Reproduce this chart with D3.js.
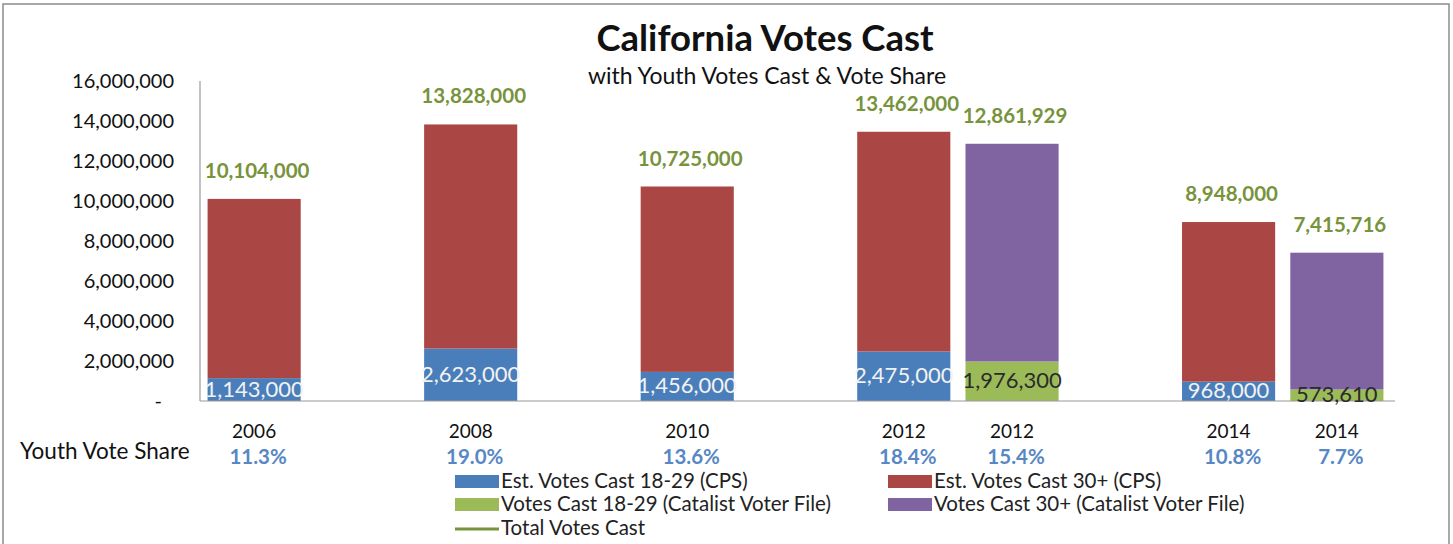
<!DOCTYPE html>
<html>
<head>
<meta charset="utf-8">
<script src="https://cdn.jsdelivr.net/npm/d3@7"></script>
<style>
  body { margin: 0; background: #fff; }
  svg { display: block; font-family: Lato, "Open Sans", sans-serif; }
</style>
</head>
<body>
<div id="chart"></div>
<script>
// Slots along the x axis (blank slots are the gaps between election years)
var slotLabels = ['2006', '', '2008', '', '2010', '', '2012', '2012', '', '2014', '2014'];

// Est. votes cast by age, CPS
var youthCPS = [1143000, null, 2623000, null, 1456000, null, 2475000, null, null, 968000, null];
var adultCPS = [8961000, null, 11205000, null, 9269000, null, 10987000, null, null, 7980000, null];

// Votes cast by age, Catalist voter file
var youthCatalist = [null, null, null, null, null, null, null, 1976300, null, null, 573610];
var adultCatalist = [null, null, null, null, null, null, null, 10885629, null, null, 6842106];

// Total votes cast (label series)
var totalVotes = [10104000, null, 13828000, null, 10725000, null, 13462000, 12861929, null, 8948000, 7415716];

// Youth vote share
var youthShare = ['11.3%', '', '19.0%', '', '13.6%', '', '18.4%', '15.4%', '', '10.8%', '7.7%'];

var yTicks = [0, 2000000, 4000000, 6000000, 8000000, 10000000, 12000000, 14000000, 16000000];

var legendItems = [
  { label: 'Est. Votes Cast 18-29 (CPS)', color: '#4a7ebb', type: 'rect', col: 0, row: 0 },
  { label: 'Est. Votes Cast 30+ (CPS)', color: '#aa4643', type: 'rect', col: 1, row: 0 },
  { label: 'Votes Cast 18-29 (Catalist Voter File)', color: '#9bbb59', type: 'rect', col: 0, row: 1 },
  { label: 'Votes Cast 30+ (Catalist Voter File)', color: '#8064a2', type: 'rect', col: 1, row: 1 },
  { label: 'Total Votes Cast', color: '#77933c', type: 'line', col: 0, row: 2 }
];

var COLORS = {
  youthCPS: '#4a7ebb',
  adultCPS: '#aa4643',
  youthCat: '#9bbb59',
  adultCat: '#8064a2',
  total: '#77933c',
  share: '#5787c4'
};

var W = 1453, H = 544;

var svg = d3.select('#chart').append('svg')
  .attr('width', W)
  .attr('height', H);

// outer frame
svg.append('rect')
  .attr('x', 3).attr('y', 4)
  .attr('width', 1446).attr('height', 560)
  .attr('fill', 'none')
  .attr('stroke', '#8c8c8c')
  .attr('stroke-width', 1.5);

var x = d3.scaleBand()
  .domain(d3.range(slotLabels.length))
  .range([200, 1391])
  .paddingInner(0.14)
  .paddingOuter(0.07);

var y = d3.scaleLinear()
  .domain([0, 16000000])
  .range([401, 81]);

// title
svg.append('text')
  .attr('x', 765).attr('y', 51)
  .attr('text-anchor', 'middle')
  .attr('font-size', '36.5px')
  .attr('font-weight', 'bold')
  .attr('fill', '#111')
  .text('California Votes Cast');

svg.append('text')
  .attr('x', 767).attr('y', 84)
  .attr('text-anchor', 'middle')
  .attr('font-size', '23px')
  .attr('fill', '#111')
  .text('with Youth Votes Cast & Vote Share');

// y axis labels
var fmt = d3.format(',');
svg.append('g').selectAll('text')
  .data(yTicks)
  .join('text')
  .attr('x', function (d) { return d === 0 ? 162 : 174; })
  .attr('y', function (d) { return y(d) + 7; })
  .attr('text-anchor', 'end')
  .attr('font-size', '20px')
  .attr('fill', '#111')
  .text(function (d) { return d === 0 ? '-' : fmt(d); });

// stacked bars
var stackRows = slotLabels.map(function (s, i) {
  return [
    { key: 'youthCPS', y0: 0, v: youthCPS[i] },
    { key: 'adultCPS', y0: youthCPS[i] || 0, v: adultCPS[i] },
    { key: 'youthCat', y0: 0, v: youthCatalist[i] },
    { key: 'adultCat', y0: youthCatalist[i] || 0, v: adultCatalist[i] }
  ].filter(function (p) { return p.v != null; })
    .map(function (p) { p.i = i; return p; });
});
var segments = [].concat.apply([], stackRows);

svg.append('g').selectAll('rect')
  .data(segments)
  .join('rect')
  .attr('x', function (d) { return x(d.i); })
  .attr('width', x.bandwidth())
  .attr('y', function (d) { return y(d.y0 + d.v); })
  .attr('height', function (d) { return y(d.y0) - y(d.y0 + d.v); })
  .attr('fill', function (d) { return COLORS[d.key]; });

// axis lines
svg.append('line')
  .attr('x1', 200).attr('x2', 200)
  .attr('y1', y(16000000)).attr('y2', y(0))
  .attr('stroke', '#9a9a9a').attr('stroke-width', 1.2);
svg.append('line')
  .attr('x1', 200).attr('x2', 1395)
  .attr('y1', y(0)).attr('y2', y(0))
  .attr('stroke', '#9a9a9a').attr('stroke-width', 1.2);

// youth labels inside bars
var youthLabels = segments.filter(function (d) { return d.key === 'youthCPS' || d.key === 'youthCat'; });
svg.append('g').selectAll('text')
  .data(youthLabels)
  .join('text')
  .attr('x', function (d) { return x(d.i) + x.bandwidth() / 2; })
  .attr('y', function (d) { return (y(0) + y(d.v)) / 2 + 7; })
  .attr('text-anchor', 'middle')
  .attr('font-size', '22px')
  .attr('fill', function (d) { return d.key === 'youthCPS' ? '#f2f2f2' : '#2b2b2b'; })
  .text(function (d) { return fmt(d.v); });

// total labels
svg.append('g').selectAll('text')
  .data(totalVotes.map(function (v, i) { return { v: v, i: i }; }).filter(function (d) { return d.v != null; }))
  .join('text')
  .attr('x', function (d) { return x(d.i) + x.bandwidth() / 2 + 3; })
  .attr('y', function (d) { return y(d.v) - 21; })
  .attr('text-anchor', 'middle')
  .attr('font-size', '20.5px')
  .attr('font-weight', 'bold')
  .attr('fill', COLORS.total)
  .text(function (d) { return fmt(d.v); });

// category labels and youth share
var cats = slotLabels.map(function (s, i) { return { s: s, p: youthShare[i], i: i }; })
  .filter(function (d) { return d.s !== ''; });

svg.append('g').selectAll('text')
  .data(cats)
  .join('text')
  .attr('x', function (d) { return x(d.i) + x.bandwidth() / 2; })
  .attr('y', 438)
  .attr('text-anchor', 'middle')
  .attr('font-size', '19px')
  .attr('fill', '#111')
  .text(function (d) { return d.s; });

svg.append('g').selectAll('text')
  .data(cats)
  .join('text')
  .attr('x', function (d) { return x(d.i) + x.bandwidth() / 2 + 4; })
  .attr('y', 464)
  .attr('text-anchor', 'middle')
  .attr('font-size', '20.5px')
  .attr('font-weight', 'bold')
  .attr('fill', COLORS.share)
  .text(function (d) { return d.p; });

svg.append('text')
  .attr('x', 20).attr('y', 459)
  .attr('font-size', '22.5px')
  .attr('fill', '#111')
  .text('Youth Vote Share');

// legend
var legendX = [455, 888];
var legendY = [481, 504, 528];
var lg = svg.append('g').selectAll('g')
  .data(legendItems)
  .join('g')
  .attr('transform', function (d) { return 'translate(' + legendX[d.col] + ',' + legendY[d.row] + ')'; });

lg.filter(function (d) { return d.type === 'rect'; })
  .append('rect')
  .attr('x', 0).attr('y', -6)
  .attr('width', 44).attr('height', 13)
  .attr('fill', function (d) { return d.color; });

lg.filter(function (d) { return d.type === 'line'; })
  .append('line')
  .attr('x1', 0).attr('x2', 44)
  .attr('y1', 1).attr('y2', 1)
  .attr('stroke', function (d) { return d.color; })
  .attr('stroke-width', 3);

lg.append('text')
  .attr('x', 46).attr('y', 7)
  .attr('font-size', '20.5px')
  .attr('fill', '#222')
  .text(function (d) { return d.label; });
</script>
</body>
</html>
